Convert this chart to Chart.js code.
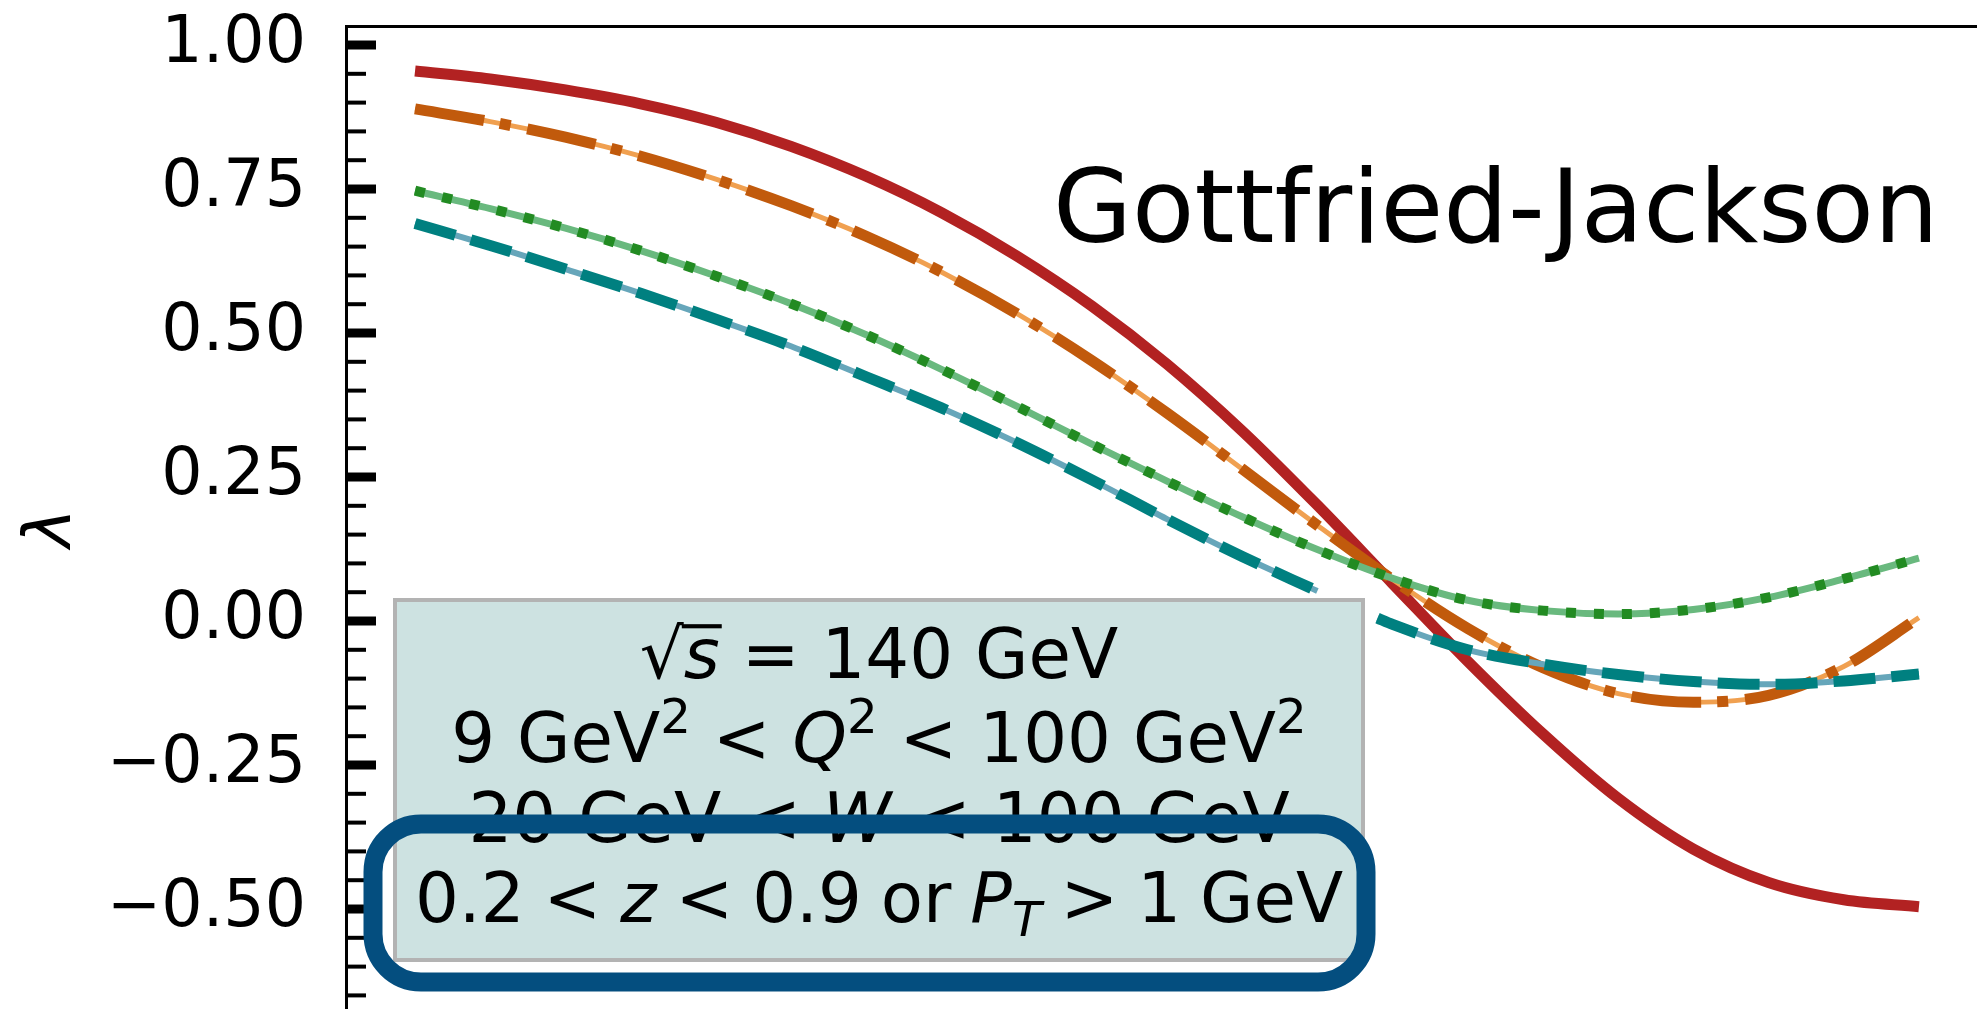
<!DOCTYPE html>
<html>
<head>
<meta charset="utf-8">
<script src="https://cdn.jsdelivr.net/npm/chart.js@4.4.0/dist/chart.umd.min.js"></script>
<style>
html, body { margin: 0; padding: 0; background: #fff; overflow: hidden; }
#wrap { width: 1977px; height: 1009px; }
</style>
</head>
<body>
<div id="wrap"><canvas id="stage" width="1977" height="1009"></canvas></div>
<script>
// x positions (no x axis shown in the picture, arbitrary units)
var xs = [0, 0.05, 0.1, 0.15, 0.2, 0.25, 0.3, 0.35, 0.4, 0.45, 0.5,
          0.55, 0.6, 0.65, 0.7, 0.75, 0.8, 0.85, 0.9, 0.95, 1.0];

// lambda curves
var red    = [0.955, 0.941, 0.922, 0.898, 0.866, 0.824, 0.772, 0.709, 0.634, 0.547, 0.446,
              0.330, 0.201, 0.065, -0.070, -0.196, -0.308, -0.396, -0.454, -0.484, -0.496];
var orange = [0.889, 0.867, 0.840, 0.807, 0.767, 0.721, 0.668, 0.606, 0.534, 0.452, 0.361,
              0.264, 0.166, 0.072, -0.013, -0.081, -0.126, -0.141, -0.129, -0.079, 0.006];
var green  = [0.747, 0.716, 0.682, 0.643, 0.599, 0.551, 0.497, 0.437, 0.373, 0.307, 0.243,
              0.181, 0.124, 0.074, 0.036, 0.018, 0.012, 0.020, 0.041, 0.073, 0.109];
// teal curve has a break just right of the text box
var tealX  = [0, 0.05, 0.1, 0.15, 0.2, 0.25, 0.3, 0.35, 0.4, 0.45, 0.5, 0.55, 0.6,
              0.62, 0.64, 0.65, 0.7, 0.75, 0.8, 0.85, 0.9, 0.95, 1.0];
var teal   = [0.690, 0.652, 0.611, 0.569, 0.524, 0.477, 0.424, 0.370, 0.310, 0.245, 0.177, 0.112, 0.052,
              null, 0.005, -0.006, -0.050, -0.075, -0.093, -0.105, -0.110, -0.104, -0.092];

// y axis ticks
var yMajor = [1.00, 0.75, 0.50, 0.25, 0.00, -0.25, -0.50];
var yMinor = [0.95, 0.90, 0.85, 0.80, 0.70, 0.65, 0.60, 0.55, 0.45, 0.40, 0.35, 0.30,
              0.20, 0.15, 0.10, 0.05, -0.05, -0.10, -0.15, -0.20, -0.30, -0.35, -0.40, -0.45,
              -0.55, -0.60, -0.65];

var yLabel = 'λ';
var frameLabel = 'Gottfried-Jackson';
var boxLines = [
    [{t: '√'}, {t: 's', it: 1, bar: 1}, {t: ' = 140 GeV'}],
    [{t: '9 GeV'}, {t: '2', sup: 1}, {t: ' < '}, {t: 'Q', it: 1}, {t: '2', sup: 1}, {t: ' < 100 GeV'}, {t: '2', sup: 1}],
    [{t: '20 GeV < '}, {t: 'W', it: 1}, {t: ' < 100 GeV'}],
    [{t: '0.2 < '}, {t: 'z', it: 1}, {t: ' < 0.9 or '}, {t: 'P', it: 1}, {t: 'T', it: 1, sub: 1}, {t: ' > 1 GeV'}]
];

function pts(x, y) {
    return x.map(function (v, i) { return {x: v, y: y[i]}; });
}

function fmt(v) {
    var s = Math.abs(v).toFixed(2);
    return (v < -1e-9 ? '\u2212' : '') + s;
}

var FONT = '"DejaVu Sans"';

function drawRich(ctx, segs, cx, base, size, wsp) {
    ctx.wordSpacing = (wsp || 0) + 'px';
    var parts = segs.map(function (s) {
        var sz = (s.sup || s.sub) ? size * 0.7 : size;
        var font = (s.it ? 'italic ' : '') + sz + 'px ' + FONT;
        ctx.font = font;
        return {s: s, font: font, w: ctx.measureText(s.t).width,
                dy: s.sup ? -0.42 * size : (s.sub ? 0.2 * size : 0)};
    });
    var total = 0;
    parts.forEach(function (p) { total += p.w; });
    var x = cx - total / 2;
    parts.forEach(function (p) {
        ctx.font = p.font;
        ctx.fillText(p.s.t, x, base + p.dy);
        if (p.s.bar) {
            ctx.fillRect(x - 2, base - 0.78 * size, p.w + 4, 0.06 * size);
        }
        x += p.w;
    });
    ctx.wordSpacing = '0px';
}

function roundRect(ctx, x, y, w, h, r) {
    ctx.beginPath();
    ctx.moveTo(x + r, y);
    ctx.arcTo(x + w, y, x + w, y + h, r);
    ctx.arcTo(x + w, y + h, x, y + h, r);
    ctx.arcTo(x, y + h, x, y, r);
    ctx.arcTo(x, y, x + w, y, r);
    ctx.closePath();
}

var decor = {
    id: 'decor',
    afterDatasetsDraw: function (chart) {
        var ctx = chart.ctx, a = chart.chartArea, ys = chart.scales.y;
        ctx.save();
        // inward ticks
        ctx.strokeStyle = '#000';
        yMinor.forEach(function (v) {
            var p = ys.getPixelForValue(v);
            ctx.lineWidth = 4;
            ctx.beginPath(); ctx.moveTo(a.left, p); ctx.lineTo(a.left + 20, p); ctx.stroke();
        });
        yMajor.forEach(function (v) {
            var p = ys.getPixelForValue(v);
            ctx.lineWidth = 9;
            ctx.beginPath(); ctx.moveTo(a.left, p); ctx.lineTo(a.left + 30, p); ctx.stroke();
        });

        // axis label
        ctx.fillStyle = '#000';
        ctx.save();
        ctx.translate(53, 528);
        ctx.rotate(-Math.PI / 2);
        ctx.font = 'italic 66px ' + FONT;
        ctx.textAlign = 'center';
        ctx.textBaseline = 'middle';
        ctx.fillText(yLabel, 0, 0);
        ctx.restore();

        // frame name
        ctx.font = '102px ' + FONT;
        ctx.textAlign = 'left';
        ctx.textBaseline = 'alphabetic';
        ctx.fillText(frameLabel, 1053, 242);

        // kinematics box
        ctx.fillStyle = '#cde2e1';
        ctx.fillRect(395, 600, 968, 360);
        ctx.strokeStyle = '#b3b3b3';
        ctx.lineWidth = 4;
        ctx.strokeRect(395, 600, 968, 360);

        ctx.fillStyle = '#000';
        var bases = [678, 762, 842, 922];
        var wsp = [0, 0, 0, -3];
        boxLines.forEach(function (segs, i) {
            drawRich(ctx, segs, 879, bases[i], 69, wsp[i]);
        });

        // highlight around last line
        ctx.strokeStyle = '#044e7f';
        ctx.lineWidth = 19;
        roundRect(ctx, 373, 824, 993, 158, 48);
        ctx.stroke();
        ctx.restore();
    }
};

var mydata = {
    datasets: [
        {data: pts(xs, red), borderColor: '#b22222', borderWidth: 11, order: 7},
        {data: pts(xs, orange), borderColor: '#f0a050', borderWidth: 5, order: 6},
        {data: pts(xs, orange), borderColor: '#c15a0c', borderWidth: 11, borderDash: [70, 16, 11, 17], order: 5},
        {data: pts(xs, green), borderColor: '#69b97e', borderWidth: 7, order: 4},
        {data: pts(xs, green), borderColor: '#228b22', borderWidth: 10, borderDash: [10, 18], order: 3},
        {data: pts(tealX, teal), borderColor: '#66a6ba', borderWidth: 6, order: 2},
        {data: pts(tealX, teal), borderColor: '#008080', borderWidth: 11, borderDash: [42, 16], order: 1}
    ]
};

var options = {
    responsive: false,
    animation: false,
    devicePixelRatio: 1,
    layout: {padding: {left: 0, top: 26, right: 0, bottom: 0}},
    elements: {
        point: {radius: 0},
        line: {fill: false, cubicInterpolationMode: 'monotone', borderCapStyle: 'butt', borderJoinStyle: 'round'}
    },
    spanGaps: false,
    plugins: {legend: {display: false}, tooltip: {enabled: false}},
    scales: {
        x: {
            type: 'linear', position: 'top',
            min: -0.0459, max: 1.0386,
            afterFit: function (s) { s.paddingLeft = 0; s.paddingRight = 0; },
            grid: {display: false, drawTicks: false},
            border: {display: true, color: '#000', width: 3},
            ticks: {display: false}
        },
        y: {
            type: 'linear',
            min: -0.6736, max: 1.033,
            afterBuildTicks: function (s) { s.ticks = yMajor.map(function (v) { return {value: v}; }); },
            afterFit: function (s) { s.width = 346; s.paddingTop = 0; s.paddingBottom = 0; },
            grid: {display: false, drawTicks: false},
            border: {display: true, color: '#000', width: 3},
            ticks: {
                autoSkip: false, padding: 40, color: '#000',
                font: {family: 'DejaVu Sans', size: 65},
                callback: function (v) { return fmt(v); }
            }
        }
    }
};

var canvas = document.getElementById('stage');
var chart = new Chart(canvas, {
    type: 'line',
    data: mydata,
    options: options,
    plugins: [decor]
});
</script>
</body>
</html>
